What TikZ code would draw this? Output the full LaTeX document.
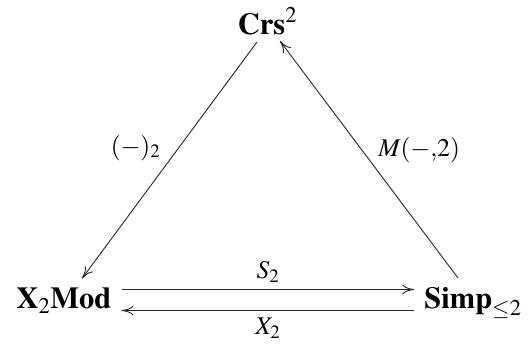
\documentclass[tikz,border=0pt]{standalone}
\usepackage{mathptmx}
\usetikzlibrary{arrows.meta,calc}
\begin{document}
\begin{tikzpicture}[x=1pt,y=1pt,
  obj/.style={inner sep=0pt,font=\fontsize{30.5}{36}\selectfont},
  lab/.style={inner sep=0pt,font=\fontsize{25.5}{30}\selectfont},
  arr/.style={line width=0.9pt,draw=black!85,-{To[length=12pt,width=10pt]}}]
\useasboundingbox (0,0) rectangle (528,349);
\node[obj,anchor=base] (C) at (267.5,314) {$\mathbf{Crs}^2$};
\node[obj,anchor=base] (X) at (64,40.5) {$\mathbf{X}_2\mathbf{Mod}$};
\node[obj,anchor=base] (S) at (473,40.5) {$\mathbf{Simp}_{\leq 2}$};
\draw[arr] ($(C.base)+(-10.5,-7)$) -- node[lab,pos=0.447,anchor=east,xshift=-18pt] {$(-)_2$} ($(X.base)+(18,30)$);
\draw[arr] ($(S.base)+(-15,30.5)$) -- node[lab,pos=0.54,anchor=west,xshift=16pt] {$M(-{,}2)$} ($(C.base)+(12.5,-6)$);
\draw[arr] ([xshift=10pt,yshift=19pt]X.base east) -- node[lab,anchor=south,yshift=7pt] {$S_2$} ([xshift=-10pt,yshift=19pt]S.base west);
\draw[arr] ([xshift=-10pt,yshift=-2pt]S.base west) -- node[lab,anchor=north,yshift=-7pt] {$X_2$} ([xshift=10pt,yshift=-2pt]X.base east);
\end{tikzpicture}
\end{document}
